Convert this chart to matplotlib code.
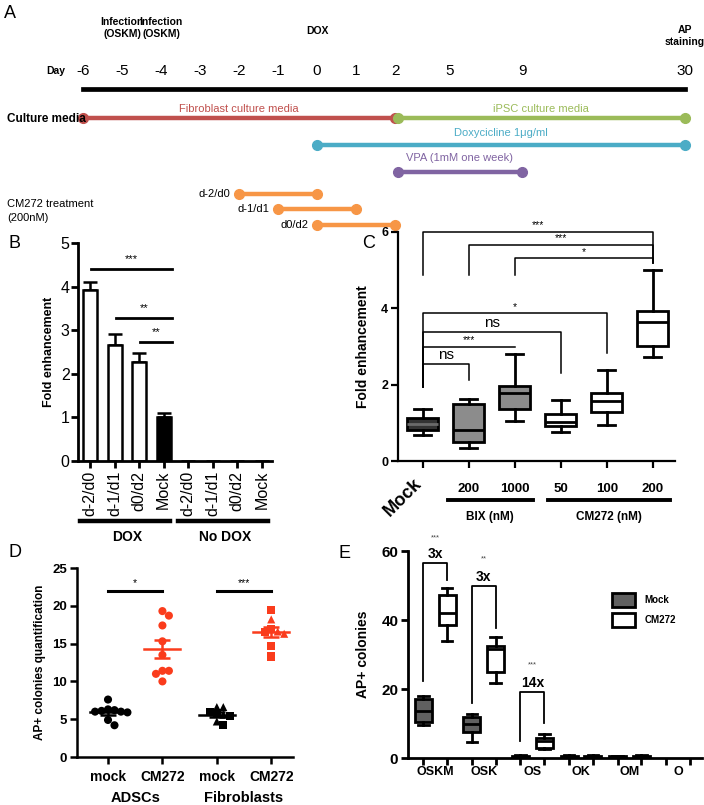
import numpy as np
import matplotlib
matplotlib.use('Agg')
import matplotlib.pyplot as plt
from matplotlib.patches import Patch

plt.rcParams['font.family'] = ['Liberation Sans', 'DejaVu Sans']

# ------------------------------------------------------------------ data
# Panel A (timeline, days)
day_labels = [-6, -5, -4, -3, -2, -1, 0, 1, 2, 5, 9, 30]
fib_media = (-6, 2)
ipsc_media = (2.15, 30)
dox_span = (0, 30)
vpa_span = (2.15, 9)
cm_names = ['d-2/d0', 'd-1/d1', 'd0/d2']
cm_start = [-2, -1, 0]
cm_end = [0, 1, 2]

# Panel B
b_labels = ['d-2/d0', 'd-1/d1', 'd0/d2', 'Mock', 'd-2/d0', 'd-1/d1', 'd0/d2', 'Mock']
b_groups = ['DOX', 'No DOX']
b_values = [3.92, 2.65, 2.28, 1.00, 0, 0, 0, 0]
b_errors = [0.18, 0.27, 0.20, 0.10, 0, 0, 0, 0]
b_sig = [(0, 3, 4.40, '***'), (1, 3, 3.28, '**'), (2, 3, 2.72, '**')]

# Panel C
c_labels = ['Mock', '200', '1000', '50', '100', '200']
c_groups = ['BIX (nM)', 'CM272 (nM)']
c_whislo = [0.68, 0.33, 1.05, 0.77, 0.94, 2.71]
c_q1 = [0.81, 0.51, 1.35, 0.92, 1.27, 3.01]
c_med = [0.96, 0.81, 1.77, 1.03, 1.58, 3.63]
c_q3 = [1.12, 1.48, 1.97, 1.22, 1.79, 3.92]
c_whishi = [1.36, 1.61, 2.80, 1.60, 2.38, 5.01]
c_fill = ['#333333', '#8c8c8c', '#8c8c8c', 'white', 'white', 'white']
# (left, right, bar height, left leg bottom, right leg bottom, label)
c_sig = [(0, 5, 6.00, 4.88, 5.17, '***'), (1, 5, 5.65, 4.88, 5.17, '***'),
         (2, 5, 5.30, 4.88, 5.17, '*'), (0, 4, 3.86, 1.94, 2.82, '*'),
         (0, 3, 3.38, 1.94, 2.31, 'ns'), (0, 2, 2.99, 1.94, 2.97, '***'),
         (0, 1, 2.53, 1.94, 2.12, 'ns')]

# Panel D
d_labels = ['mock', 'CM272', 'mock', 'CM272']
d_groups = ['ADSCs', 'Fibroblasts']
adsc_mock = [7.6, 6.3, 6.2, 6.1, 6.0, 6.0, 5.9, 4.9, 4.2]
adsc_cm = [19.3, 18.7, 17.4, 15.3, 13.5, 11.4, 11.4, 11.0, 10.0]
fib_mock_tri = [6.6, 6.6, 5.6, 4.7]
fib_mock_sq = [5.9, 5.8, 5.4, 4.2]
fib_cm_sq = [19.5, 16.9, 16.5, 14.7, 13.3]
fib_cm_tri = [18.2, 16.6, 16.3]
d_sig = [(0, 1, 21.9, '*'), (2, 3, 21.9, '***')]

# Panel E
e_groups = ['OSKM', 'OSK', 'OS', 'OK', 'OM', 'O']
e_mock_lo = [9.7, 4.7, 0.0, 0.0, 0.0, None]
e_mock_q1 = [10.5, 7.6, 0.1, 0.1, 0.05, None]
e_mock_med = [13.7, 10.0, 0.3, 0.3, 0.2, None]
e_mock_q3 = [17.0, 12.0, 0.6, 0.6, 0.5, None]
e_mock_hi = [18.0, 12.75, 0.8, 0.8, 0.6, None]
e_cm_lo = [33.9, 21.8, 2.6, 0.0, 0.0, None]
e_cm_q1 = [38.6, 25.0, 3.0, 0.1, 0.1, None]
e_cm_med = [42.1, 31.6, 4.8, 0.3, 0.3, None]
e_cm_q3 = [47.2, 32.5, 5.8, 0.6, 0.6, None]
e_cm_hi = [49.2, 35.0, 6.9, 0.8, 0.8, None]
# (group, bracket top, mock leg bottom, cm leg bottom, fold, stars, stars y)
e_sig = [(0, 56.4, 22.2, 51.6, '3x', '***', 63.8),
         (1, 49.9, 15.9, 37.6, '3x', '**', 57.7),
         (2, 19.0, 4.8, 10.1, '14x', '***', 27.0)]

# ------------------------------------------------------------------ layout
W, H = 704, 805
fig = plt.figure(figsize=(W / 100, H / 100), dpi=100)


def rect(l, t, r, b):
    return [l / W, 1 - b / H, (r - l) / W, (b - t) / H]


def ftext(x, y, s, **kw):
    fig.text(x / W, 1 - y / H, s, **kw)


def style_axes(ax, lw):
    for s in ['top', 'right']:
        ax.spines[s].set_visible(False)
    for s in ['left', 'bottom']:
        ax.spines[s].set_linewidth(lw)
    ax.tick_params(width=lw, length=5, direction='out')


RED = '#fa3c1c'

# ------------------------------------------------------------------ Panel A
scale_days = np.array([-100, -6, 2, 5, 9, 30, 200], float)
scale_px = np.array([83 - 94 * 39.0, 83, 395, 450, 522, 685, 685 + 170 * 7.76])


def fwd(x):
    return np.interp(x, scale_days, scale_px)


def inv(p):
    return np.interp(p, scale_px, scale_days)


axA = fig.add_axes([0, 1 - 240 / H, 1, 240 / H])
axA.set_xscale('function', functions=(fwd, inv))
axA.set_xlim(inv(0), inv(W))
axA.set_ylim(240, 0)
axA.axis('off')

for d in day_labels:
    axA.text(d, 71, str(d), ha='center', va='center', fontsize=11)
ftext(56, 71, 'Day', ha='center', va='center', fontsize=7.5, fontweight='bold')
axA.plot([day_labels[0], day_labels[-1]], [89, 89], color='black', lw=3.4,
         solid_capstyle='projecting')
for d in [-5, -4]:
    axA.text(d, 28, 'Infection\n(OSKM)', ha='center', va='center', fontsize=7.5,
             fontweight='bold', linespacing=1.3)
axA.text(0, 31, 'DOX', ha='center', va='center', fontsize=7.5, fontweight='bold')
axA.text(30, 36, 'AP\nstaining', ha='center', va='center', fontsize=7.5,
         fontweight='bold', linespacing=1.3)

ftext(7, 119, 'Culture media', ha='left', va='center', fontsize=8.5, fontweight='bold')
ftext(7, 211, 'CM272 treatment\n(200nM)', ha='left', va='center', fontsize=8,
      linespacing=1.5)


def seg(a, b, y, color, label=None, ly=None):
    axA.plot([a, b], [y, y], color=color, lw=3.2, marker='o', ms=7,
             solid_capstyle='butt')
    if label:
        xm = inv((fwd(a) + fwd(b)) / 2)
        axA.text(xm, ly, label, ha='center', va='center', fontsize=8, color=color)


seg(*fib_media, 118, '#c0504d', 'Fibroblast culture media', 109)
seg(*ipsc_media, 118, '#9bbb59', 'iPSC culture media', 109)
seg(*dox_span, 145, '#4bacc6', 'Doxycicline 1\u03bcg/ml', 133)
seg(*vpa_span, 172, '#8064a2', 'VPA (1mM one week)', 158)
for i, (nm, s, e) in enumerate(zip(cm_names, cm_start, cm_end)):
    y = 194 + i * 15.5
    seg(s, e, y, '#f79646')
    axA.annotate(nm, (s, y), xytext=(-6, 0), textcoords='offset points',
                 ha='right', va='center', fontsize=8)

ftext(4, 13, 'A', fontsize=13, va='center')
ftext(8, 244, 'B', fontsize=13, va='center')
ftext(362, 244, 'C', fontsize=13, va='center')
ftext(8, 552, 'D', fontsize=13, va='center')
ftext(338, 553, 'E', fontsize=13, va='center')

# ------------------------------------------------------------------ Panel B
axB = fig.add_axes(rect(78, 243, 272, 461))
style_axes(axB, 2.0)
xb = np.arange(len(b_values))
colors_b = ['white', 'white', 'white', 'black'] * 2
axB.bar(xb, b_values, width=0.57, color=colors_b, edgecolor='black', lw=1.8, zorder=2)
axB.errorbar(xb[:4], b_values[:4], yerr=[np.zeros(4), b_errors[:4]], fmt='none',
             ecolor='black', elinewidth=1.8, capsize=5, capthick=1.8, zorder=1)
axB.set_xlim(-0.49, 7.41)
axB.set_ylim(0, 5)
axB.set_yticks(range(6))
axB.set_xticks(xb)
axB.set_xticklabels(b_labels, rotation=90, fontsize=11.5)
axB.tick_params(axis='y', labelsize=11.5, pad=1)
axB.tick_params(axis='x', pad=2)
axB.set_ylabel('Fold enhancement', fontsize=9, fontweight='bold', labelpad=4)
for a, b, y, s in b_sig:
    axB.plot([a + 0.05, b + 0.35], [y, y], color='black', lw=2.0, clip_on=False)
    axB.text((a + b + 0.4) / 2, y + 0.12, s, ha='center', va='bottom', fontsize=8)
tB = axB.get_xaxis_transform()
for g, name in enumerate(b_groups):
    axB.plot([-0.42 + 4 * g, 3.26 + 4 * g], [-0.275, -0.275], color='black', lw=3.2,
             transform=tB, clip_on=False)
    axB.text(1.5 + 4 * g, -0.35, name, transform=tB, ha='center', va='center',
             fontsize=10, fontweight='bold')

# ------------------------------------------------------------------ Panel C
axC = fig.add_axes(rect(398, 231.7, 675, 461))
style_axes(axC, 1.6)
xc = np.arange(len(c_labels))
statsC = [dict(whislo=a, q1=b, med=c, q3=d, whishi=e, fliers=[])
          for a, b, c, d, e in zip(c_whislo, c_q1, c_med, c_q3, c_whishi)]
bp = axC.bxp(statsC, positions=xc, widths=0.67, patch_artist=True, showfliers=False,
             boxprops=dict(edgecolor='black', lw=2.0),
             whiskerprops=dict(color='black', lw=2.0),
             capprops=dict(color='black', lw=2.0),
             medianprops=dict(color='black', lw=2.0), capwidths=0.37)
for patch, fc in zip(bp['boxes'], c_fill):
    patch.set_facecolor(fc)
bp['medians'][0].set_color('#6a6a6a')
axC.set_xlim(-0.54, 5.48)
axC.set_ylim(0, 6)
axC.set_yticks([0, 2, 4, 6])
axC.set_xticks(xc)
axC.set_xticklabels([''] + c_labels[1:], fontsize=9.5, fontweight='bold')
axC.tick_params(axis='x', pad=11)
axC.tick_params(axis='y', pad=2)
for lab in axC.get_yticklabels():
    lab.set_fontweight('bold')
    lab.set_fontsize(9)
axC.set_ylabel('Fold enhancement', fontsize=10, fontweight='bold', labelpad=8)
tC = axC.get_xaxis_transform()
axC.text(0.05, -0.06, c_labels[0], transform=tC, rotation=45, ha='right', va='top',
         fontsize=13, fontweight='bold')
for (x0, x1), name in zip([(0.54, 2.39), (2.72, 5.37)], c_groups):
    axC.plot([x0, x1], [-0.17, -0.17], color='black', lw=2.8, transform=tC,
             clip_on=False)
    axC.text((x0 + x1) / 2, -0.245, name, transform=tC, ha='center', va='center',
             fontsize=8.5, fontweight='bold')
for a, b, y, la, lb, s in c_sig:
    axC.plot([a, a, b, b], [la, y, y, lb], color='black', lw=1.1, clip_on=False)
    if s == 'ns':
        axC.text((a + b) / 2, y + 0.05, s, ha='center', va='bottom', fontsize=11)
    else:
        axC.text((a + b) / 2, y + 0.04, s, ha='center', va='bottom', fontsize=7.5)

# ------------------------------------------------------------------ Panel D
axD = fig.add_axes(rect(77, 568, 293, 757))
style_axes(axD, 1.8)
axD.set_xlim(-0.57, 3.4)
axD.set_ylim(0, 25)
ppu_y = 189 / 25
ppu_x = 54.3
diam = 7.6


def swarm(vals):
    vals = np.asarray(vals, float)
    order = np.argsort(-vals)
    done = []
    offs = np.zeros(len(vals))
    for i in order:
        y = vals[i] * ppu_y
        x = 0.0
        for k in [0, 1, -1, 2, -2, 3, -3]:
            x = k * diam * 0.85
            if all((x - px) ** 2 + (y - py) ** 2 >= (diam * 0.75) ** 2 for px, py in done):
                break
        done.append((x, y))
        offs[i] = x / ppu_x
    return offs


d_sets = [
    (0, [(adsc_mock, 'o')], 'black'),
    (1, [(adsc_cm, 'o')], RED),
    (2, [(fib_mock_tri, '^'), (fib_mock_sq, 's')], 'black'),
    (3, [(fib_cm_sq, 's'), (fib_cm_tri, '^')], RED),
]
for pos, parts, col in d_sets:
    allv = np.concatenate([np.asarray(v, float) for v, _ in parts])
    offs = swarm(allv)
    k = 0
    for v, mk in parts:
        n = len(v)
        axD.scatter(pos + offs[k:k + n], v, marker=mk, s=34, color=col,
                    edgecolors='none', zorder=3, clip_on=False)
        k += n
    m = allv.mean()
    sem = allv.std(ddof=1) / np.sqrt(len(allv))
    axD.plot([pos - 0.33, pos + 0.33], [m, m], color=col, lw=1.8, zorder=4)
    axD.errorbar([pos], [m], yerr=[[sem], [sem]], fmt='none', ecolor=col,
                 elinewidth=1.8, capsize=6, capthick=1.8, zorder=4)
axD.set_xticks(range(4))
axD.set_xticklabels(d_labels, fontsize=10, fontweight='bold')
axD.tick_params(axis='x', pad=4)
axD.set_yticks([0, 5, 10, 15, 20, 25])
for lab in axD.get_yticklabels():
    lab.set_fontweight('bold')
    lab.set_fontsize(9.5)
axD.tick_params(axis='y', pad=2)
axD.set_ylabel('AP+ colonies quantification', fontsize=8.5, fontweight='bold', labelpad=5)
for a, b, y, s in d_sig:
    axD.plot([a, b], [y, y], color='black', lw=2.2)
    axD.text((a + b) / 2, y + 0.5, s, ha='center', va='bottom', fontsize=7.5)
tD = axD.get_xaxis_transform()
for g, name in enumerate(d_groups):
    axD.text(0.5 + 2 * g, -0.215, name, transform=tD, ha='center', va='center',
             fontsize=10.5, fontweight='bold')

# ------------------------------------------------------------------ Panel E
axE = fig.add_axes(rect(408, 551, 702, 758))
style_axes(axE, 2.0)
xe = np.arange(len(e_groups))
off = 0.245
MOCKC = '#606060'


def boxstats(lo, q1, med, q3, hi):
    out, pos = [], []
    for i, vals in enumerate(zip(lo, q1, med, q3, hi)):
        if vals[0] is None:
            continue
        out.append(dict(whislo=vals[0], q1=vals[1], med=vals[2], q3=vals[3],
                        whishi=vals[4], fliers=[]))
        pos.append(i)
    return out, np.array(pos, float)


for stats_args, sign, fc in [((e_mock_lo, e_mock_q1, e_mock_med, e_mock_q3, e_mock_hi), -1, MOCKC),
                             ((e_cm_lo, e_cm_q1, e_cm_med, e_cm_q3, e_cm_hi), 1, 'white')]:
    st, ps = boxstats(*stats_args)
    axE.bxp(st, positions=ps + sign * off, widths=0.35, patch_artist=True,
            showfliers=False,
            boxprops=dict(facecolor=fc, edgecolor='black', lw=2.0),
            whiskerprops=dict(color='black', lw=2.0),
            capprops=dict(color='black', lw=2.0),
            medianprops=dict(color='black', lw=2.0), capwidths=0.22)
axE.set_xlim(-0.56, 5.49)
axE.set_ylim(0, 60)
axE.set_yticks([0, 20, 40, 60])
for lab in axE.get_yticklabels():
    lab.set_fontweight('bold')
    lab.set_fontsize(11)
axE.tick_params(axis='y', pad=2)
axE.set_xticks(np.concatenate([xe - off, xe + off]))
axE.set_xticklabels([])
axE.set_xticks(xe, minor=True)
axE.set_xticklabels(e_groups, minor=True, fontsize=9, fontweight='bold')
axE.tick_params(axis='x', which='minor', length=0, pad=6)
axE.set_ylabel('AP+ colonies', fontsize=10, fontweight='bold', labelpad=8)
for g, top, lb, rb, fold, stars, sy in e_sig:
    axE.plot([g - off, g - off, g + off, g + off], [lb, top, top, rb], color='black',
             lw=1.3, clip_on=False)
    axE.text(g, top + 2.6, fold, ha='center', va='center', fontsize=10, fontweight='bold')
    axE.text(g, sy, stars, ha='center', va='center', fontsize=5.5, color='#444444',
             clip_on=False)
handles = [Patch(facecolor=MOCKC, edgecolor='black', lw=2, label='Mock'),
           Patch(facecolor='white', edgecolor='black', lw=2, label='CM272')]
leg = axE.legend(handles=handles, loc='upper left', bbox_to_anchor=(0.665, 0.84),
                 frameon=False, handlelength=2.3, handleheight=1.9, labelspacing=0.6,
                 prop=dict(size=7, weight='bold'), handletextpad=1.0)

fig.savefig('out.png', dpi=100)
